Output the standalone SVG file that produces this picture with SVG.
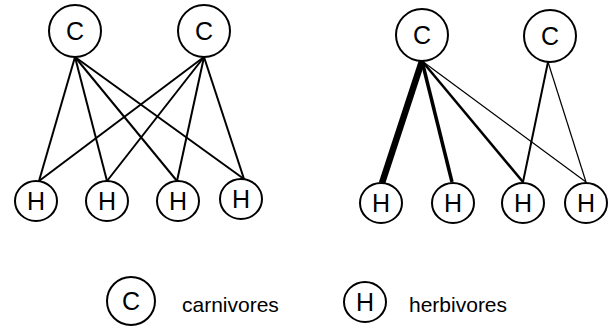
<svg xmlns="http://www.w3.org/2000/svg" width="614" height="326" viewBox="0 0 614 326">
<style>
.n{fill:#fff;stroke:#000;stroke-width:2}
.t{font-family:"Liberation Sans",Arial,sans-serif;font-size:25px;text-anchor:middle;fill:#000}
.l{font-family:"Liberation Sans",Arial,sans-serif;font-size:21px;fill:#000}
.e{stroke:#000;stroke-linecap:butt;fill:none}
</style>
<rect width="614" height="326" fill="#fff"/>
<g id="connectors">
<g class="e" stroke-width="2">
<line x1="75" y1="57" x2="39" y2="181"/>
<line x1="75" y1="57" x2="107" y2="181"/>
<line x1="75" y1="57" x2="177" y2="181"/>
<line x1="75" y1="57" x2="244" y2="179"/>
<line x1="204" y1="57" x2="39" y2="181"/>
<line x1="204" y1="57" x2="107" y2="181"/>
<line x1="204" y1="57" x2="177" y2="181"/>
<line x1="204" y1="57" x2="244" y2="179"/>
</g>
<line class="e" x1="422" y1="61" x2="382" y2="183" stroke-width="6.5"/>
<line class="e" x1="422" y1="61" x2="452" y2="182" stroke-width="3.5"/>
<line class="e" x1="422" y1="61" x2="523" y2="182" stroke-width="2.5"/>
<line class="e" x1="422" y1="61" x2="586" y2="182" stroke-width="1.2"/>
<line class="e" x1="548" y1="62" x2="523" y2="182" stroke-width="2"/>
<line class="e" x1="548" y1="62" x2="586" y2="182" stroke-width="1.2"/>
</g>
<g id="c1"><circle class="n" cx="75" cy="31" r="26"/><text class="t" x="75" y="40">C</text></g>
<g id="c2"><circle class="n" cx="204" cy="31" r="26"/><text class="t" x="204" y="40">C</text></g>
<g id="h1"><ellipse class="n" cx="36" cy="201" rx="21" ry="20"/><text class="t" x="36" y="210">H</text></g>
<g id="h2"><ellipse class="n" cx="107" cy="201" rx="21" ry="20"/><text class="t" x="107" y="210">H</text></g>
<g id="h3"><ellipse class="n" cx="178" cy="201" rx="21" ry="20"/><text class="t" x="178" y="210">H</text></g>
<g id="h4"><ellipse class="n" cx="241" cy="199" rx="21" ry="20"/><text class="t" x="241" y="208">H</text></g>
<g id="c3"><circle class="n" cx="422" cy="35" r="26"/><text class="t" x="422" y="44">C</text></g>
<g id="c4"><circle class="n" cx="550" cy="36" r="26"/><text class="t" x="550" y="45">C</text></g>
<g id="h5"><ellipse class="n" cx="381" cy="203" rx="21" ry="20"/><text class="t" x="381" y="212">H</text></g>
<g id="h6"><ellipse class="n" cx="453" cy="203" rx="21" ry="20"/><text class="t" x="453" y="212">H</text></g>
<g id="h7"><ellipse class="n" cx="523" cy="203" rx="21" ry="20"/><text class="t" x="523" y="212">H</text></g>
<g id="h8"><ellipse class="n" cx="586" cy="203" rx="21" ry="20"/><text class="t" x="586" y="212">H</text></g>
<g id="legend-c"><circle class="n" cx="131" cy="301" r="24"/><text class="t" x="131" y="310">C</text><text class="l" x="182" y="312">carnivores</text></g>
<g id="legend-h"><ellipse class="n" cx="365" cy="302" rx="21" ry="20"/><text class="t" x="365" y="311">H</text><text class="l" x="409" y="312">herbivores</text></g>
</svg>
